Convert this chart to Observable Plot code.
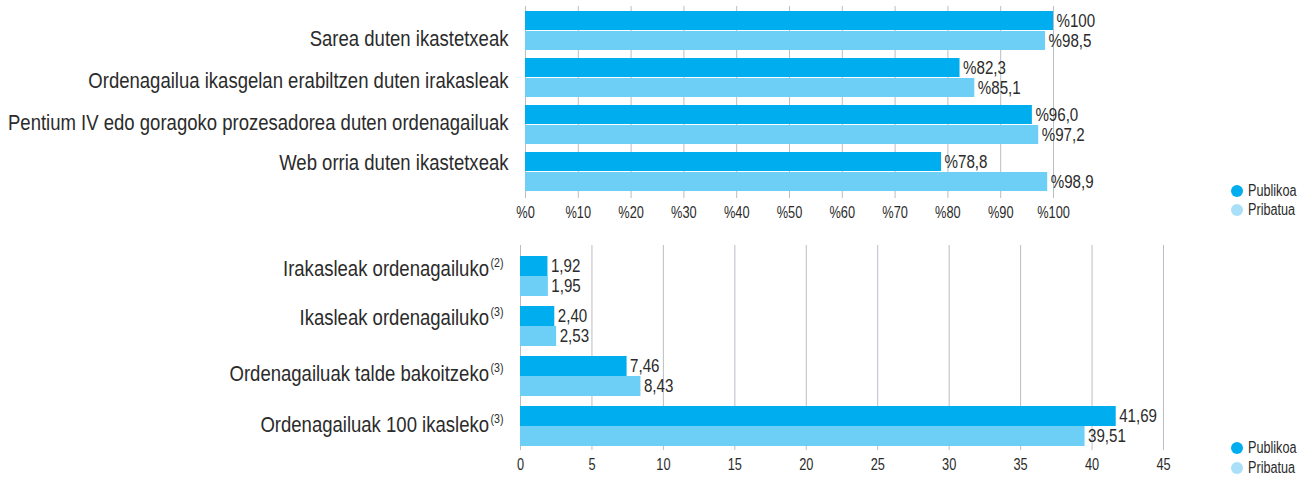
<!DOCTYPE html>
<html>
<head>
<meta charset="utf-8">
<script src="https://cdn.jsdelivr.net/npm/d3@7"></script>
<script src="https://cdn.jsdelivr.net/npm/@observablehq/plot@0.6"></script>
<style>
  html, body { margin: 0; padding: 0; background: #fff; }
  body { width: 1302px; height: 477px; position: relative; overflow: hidden;
         font-family: "Liberation Sans", Arial, sans-serif; color: #2b2b2b; }
  #chart svg { display: block; }
  .legend { position: absolute; left: 1231px; font-size: 16px; color: #2b2b2b; }
  .legend .item { display: flex; align-items: center; white-space: nowrap; }
  .legend .dot { width: 12px; height: 12px; border-radius: 50%; margin-right: 5px; flex: none; }
  .legend .lbl { display: inline-block; transform-origin: left center; }
</style>
</head>
<body>
<div id="chart"></div>
<div class="legend" id="leg1" style="top:181px"></div>
<div class="legend" id="leg2" style="top:438px"></div>
<script>
// ---------- Data ----------
const seriesNames = ["Publikoa", "Pribatua"];
const seriesColors = ["#00aeef", "#6dcff6"];
const legendColors = ["#00aeef", "#a9dff8"];

const topCategories = [
  "Sarea duten ikastetxeak",
  "Ordenagailua ikasgelan erabiltzen duten irakasleak",
  "Pentium IV edo goragoko prozesadorea duten ordenagailuak",
  "Web orria duten ikastetxeak"
];
const topNotes = ["", "", "", ""];
const topPublikoa = [100, 82.3, 96.0, 78.8];
const topPribatua = [98.5, 85.1, 97.2, 98.9];
const topTicks = [0, 10, 20, 30, 40, 50, 60, 70, 80, 90, 100];

const bottomCategories = [
  "Irakasleak ordenagailuko",
  "Ikasleak ordenagailuko",
  "Ordenagailuak talde bakoitzeko",
  "Ordenagailuak 100 ikasleko"
];
const bottomNotes = ["(2)", "(3)", "(3)", "(3)"];
const bottomPublikoa = [1.92, 2.40, 7.46, 41.69];
const bottomPribatua = [1.95, 2.53, 8.43, 39.51];
const bottomTicks = [0, 5, 10, 15, 20, 25, 30, 35, 40, 45];

// ---------- Style ----------
const FONT = '"Liberation Sans", Arial, sans-serif';
const gridColor = "#b9bdc5";
const textColor = "#2b2b2b";
// vertical nudges of the category labels relative to their bar pair (as in the original layout)
const topLabelNudge = [8, 2.5, -2.5, -9];
const bottomLabelNudge = [-8, -9, -2.5, -2];

function rows(cats, a, b) {
  const out = [];
  cats.forEach((c, i) => {
    out.push({cat: c, series: seriesNames[0], value: a[i]});
    out.push({cat: c, series: seriesNames[1], value: b[i]});
  });
  return out;
}

function chart({cats, notes, nudge, pub, pri, ticks, xDomain, tickFmt, valueFmt, height, marginTop, marginBottom, marginLeft, marginRight, yRange, paddingInner}) {
  const data = rows(cats, pub, pri);
  const half = 20;
  const labelMarks = [];
  cats.forEach((c, i) => {
    labelMarks.push(Plot.text([c], {y: d => d, text: d => d, frameAnchor: "left", textAnchor: "end",
      dx: -17, dy: nudge[i], fontSize: 22, fill: textColor, ariaLabel: () => "category-label-" + i}));
    if (notes[i]) {
      labelMarks.push(Plot.text([c], {y: d => d, text: () => notes[i], frameAnchor: "left", textAnchor: "end",
        dx: -17, dy: nudge[i] - 6, fontSize: 12.5, fill: textColor, ariaLabel: () => "category-note-" + i}));
    }
  });
  return Plot.plot({
    width: 1302,
    height,
    marginTop, marginBottom, marginLeft, marginRight,
    style: {fontFamily: FONT, color: textColor, background: "transparent", overflow: "visible"},
    x: {domain: xDomain, axis: null},
    y: {type: "band", domain: cats, range: yRange, paddingInner, paddingOuter: 0, axis: null},
    marks: [
      Plot.ruleX(ticks, {stroke: gridColor, strokeWidth: 1}),
      Plot.barX(data.filter(d => d.series === seriesNames[0]), {x: "value", y: "cat", fill: seriesColors[0], insetBottom: half}),
      Plot.barX(data.filter(d => d.series === seriesNames[1]), {x: "value", y: "cat", fill: seriesColors[1], insetTop: half}),
      Plot.text(data.filter(d => d.series === seriesNames[0]), {x: "value", y: "cat", text: d => valueFmt(d.value), textAnchor: "start", dx: 3, dy: -10, fontSize: 18, fill: textColor, ariaLabel: () => "value-label"}),
      Plot.text(data.filter(d => d.series === seriesNames[1]), {x: "value", y: "cat", text: d => valueFmt(d.value), textAnchor: "start", dx: 3, dy: 10, fontSize: 18, fill: textColor, ariaLabel: () => "value-label"}),
      ...labelMarks,
      Plot.axisX({ticks, tickSize: 0, tickPadding: 8, fontSize: 16, fill: textColor, tickFormat: tickFmt, label: null})
    ]
  });
}

const topChart = chart({
  cats: topCategories, notes: topNotes, nudge: topLabelNudge, pub: topPublikoa, pri: topPribatua, ticks: topTicks,
  xDomain: [0, 100],
  tickFmt: d => "%" + d,
  valueFmt: v => "%" + (v === 100 ? "100" : v.toFixed(1).replace(".", ",")),
  height: 230, marginTop: 6, marginBottom: 32, marginLeft: 525, marginRight: 249,
  yRange: [10, 193], paddingInner: 0.161
});

const bottomChart = chart({
  cats: bottomCategories, notes: bottomNotes, nudge: bottomLabelNudge, pub: bottomPublikoa, pri: bottomPribatua, ticks: bottomTicks,
  xDomain: [0, 45],
  tickFmt: d => String(d),
  valueFmt: v => v.toFixed(2).replace(".", ","),
  height: 247, marginTop: 15, marginBottom: 27, marginLeft: 520, marginRight: 139,
  yRange: [25, 216], paddingInner: 0.205
});

const el = document.getElementById("chart");
el.appendChild(topChart);
el.appendChild(bottomChart);

function labelOf(t) {
  const a = t.closest("[aria-label]");
  return a ? a.getAttribute("aria-label") : "";
}
function findText(svg, label) {
  return Array.from(svg.querySelectorAll("text")).find(t => labelOf(t) === label);
}

// Condense texts horizontally (the original uses a condensed typeface)
function condense(t, k) {
  const w = t.getComputedTextLength();
  if (w > 0) {
    t.setAttribute("textLength", (w * k).toFixed(1));
    t.setAttribute("lengthAdjust", "spacingAndGlyphs");
  }
}
[topChart, bottomChart].forEach(svg => {
  svg.querySelectorAll("text").forEach(t => {
    const lab = labelOf(t);
    let k = 0.8;
    if (lab.startsWith("category-label")) k = 0.842;
    else if (lab.startsWith("category-note")) k = 0.85;
    else if (lab === "value-label") k = 0.84;
    condense(t, k);
  });
  // shift labels that carry a note marker so the note follows them
  for (let i = 0; i < 4; i++) {
    const note = findText(svg, "category-note-" + i);
    const main = findText(svg, "category-label-" + i);
    if (note && main) {
      const w = parseFloat(note.getAttribute("textLength")) || note.getComputedTextLength();
      const tr = main.getAttribute("transform") || "";
      main.setAttribute("transform", (tr + ` translate(${(-(w + 1.5)).toFixed(1)},0)`).trim());
    }
  }
});

function legend(id, gap) {
  const box = document.getElementById(id);
  seriesNames.forEach((n, i) => {
    const it = document.createElement("div");
    it.className = "item";
    it.style.height = gap + "px";
    it.innerHTML = `<span class="dot" style="background:${legendColors[i]}"></span><span class="lbl" style="transform:scaleX(0.79)">${n}</span>`;
    box.appendChild(it);
  });
}
legend("leg1", 19);
legend("leg2", 20);
</script>
</body>
</html>
